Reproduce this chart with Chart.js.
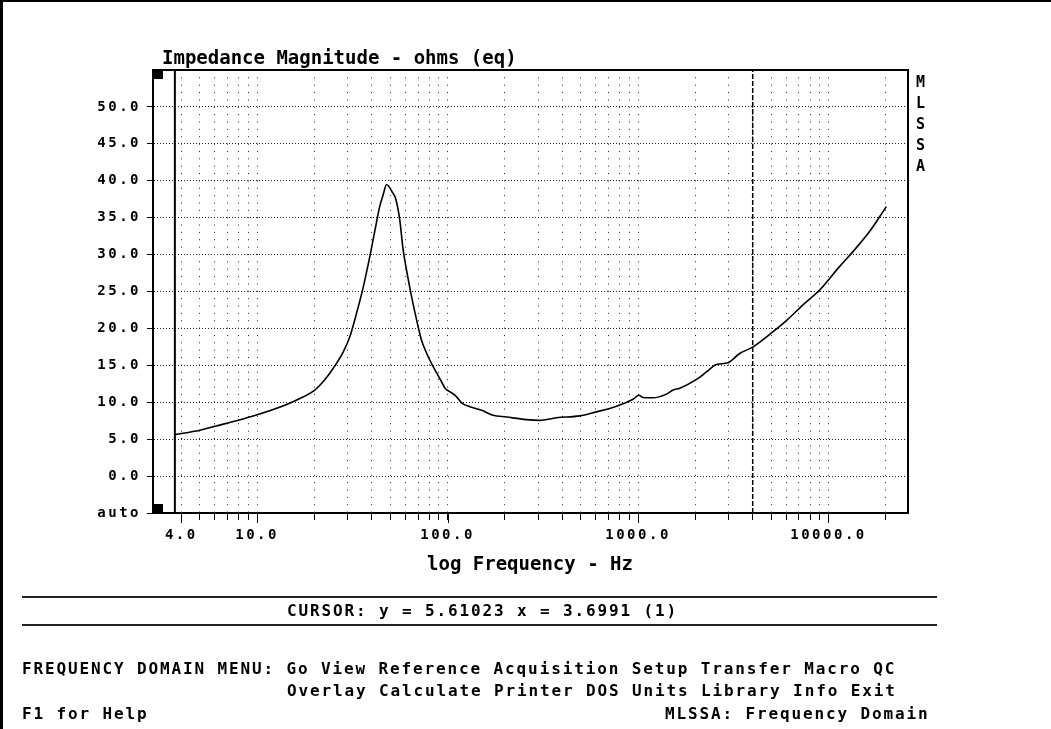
<!DOCTYPE html>
<html>
<head>
<meta charset="utf-8">
<title>MLSSA Impedance Magnitude</title>
<script src="https://cdn.jsdelivr.net/npm/chart.js@4.4.1/dist/chart.umd.min.js"></script>
<style>
    body { margin: 0; background: #fff; }
    #wrap { position: relative; width: 1051px; height: 729px; overflow: hidden; background: #fff; }
    #wrap canvas { position: absolute; left: 0; top: 0; }
    .t { position: absolute; font-family: "DejaVu Sans Mono", monospace; font-weight: bold; color: #000; white-space: pre; }
    .big { font-size: 19px; line-height: 19px; }
    .small { font-size: 16px; line-height: 16px; letter-spacing: 1.87px; }
    .side { font-size: 15px; line-height: 21px; width: 12px; }
    .rule { position: absolute; left: 22px; width: 915px; height: 2px; background: #222; }
    .edge { position: absolute; background: #000; }
</style>
</head>
<body>
<div id="wrap">
    <canvas id="impChart" width="1051" height="729"></canvas>
    <div class="edge" style="left:0;top:0;width:3px;height:729px;"></div>
    <div class="edge" style="left:0;top:0;width:1051px;height:2px;"></div>
    <div class="t big" style="left:162px;top:48px;">Impedance Magnitude - ohms (eq)</div>
    <div class="t side" style="left:916px;top:72px;">M<br>L<br>S<br>S<br>A</div>
    <div class="t big" style="left:427px;top:554px;">log Frequency - Hz</div>
    <div class="rule" style="top:596px;"></div>
    <div class="t small" style="left:287px;top:603px;">CURSOR: y = 5.61023 x = 3.6991 (1)</div>
    <div class="rule" style="top:624px;"></div>
    <div class="t small" style="left:22px;top:661px;">FREQUENCY DOMAIN MENU: Go View Reference Acquisition Setup Transfer Macro QC</div>
    <div class="t small" style="left:287px;top:683px;">Overlay Calculate Printer DOS Units Library Info Exit</div>
    <div class="t small" style="left:22px;top:706px;">F1 for Help</div>
    <div class="t small" style="left:665px;top:706px;">MLSSA: Frequency Domain</div>
</div>
<script>
const freqHz = [3.6991, 5, 6, 7.8, 10, 14.3, 17.4, 20, 22.6, 25.1, 28.3, 30.7, 33.3, 36, 39.1, 41.5, 44, 45.9, 47.8, 51.4,
    53.5, 56.1, 58.4, 60.9, 64.7, 68.7, 73, 79, 87.5, 92, 97, 103, 110, 120, 131, 151, 173, 204, 259, 305,
    373, 494, 605, 710, 834, 941, 1012, 1062, 1199, 1410, 1528, 1656, 2029, 2288, 2580, 2967, 3417, 4018, 5117, 6010,
    7350, 8990, 11450, 13450, 16460, 20130];
const impedanceOhms = [5.61, 6.2, 6.75, 7.5, 8.3, 9.7, 10.7, 11.6, 13.0, 14.6, 16.8, 18.9, 22.1, 25.5, 29.8, 33.2, 36.5, 38.1, 39.5, 38.4,
    37.5, 34.7, 30.7, 27.9, 24.3, 21.2, 18.4, 16.2, 14.0, 13.0, 11.9, 11.4, 10.9, 9.8, 9.4, 8.9, 8.25, 8.0, 7.65, 7.55,
    7.9, 8.15, 8.7, 9.15, 9.8, 10.4, 10.95, 10.65, 10.6, 11.1, 11.65, 11.9, 13.1, 14.1, 15.1, 15.35, 16.6, 17.5, 19.55, 21.05,
    23.2, 25.2, 28.4, 30.4, 33.15, 36.5];

// axes
const xRangeHz = [2.84, 26150];
const xGridHz = [4, 5, 6, 7, 8, 9, 10, 20, 30, 40, 50, 60, 70, 80, 90, 100, 200, 300, 400, 500, 600, 700, 800, 900,
    1000, 2000, 3000, 4000, 5000, 6000, 7000, 8000, 9000, 10000, 20000];
const xLabelHz = [4, 10, 100, 1000, 10000];
const xLabelText = ["4.0", "10.0", "100.0", "1000.0", "10000.0"];
const yRange = [-5, 55];
const yTickOhms = [-5, 0, 5, 10, 15, 20, 25, 30, 35, 40, 45, 50];
const yTickText = ["auto", "0.0", "5.0", "10.0", "15.0", "20.0", "25.0", "30.0", "35.0", "40.0", "45.0", "50.0"];

// cursor (plot start) and marker lines
const cursorHz = 3.6991;
const markerHz = 4000;

const tickFont = { family: "DejaVu Sans Mono", weight: "bold", size: 14 };

const screenPlugin = {
    id: "screen",
    beforeDraw(chart) {
        chart.ctx.letterSpacing = "2.5px"; // wide DOS-style tick labels
    },
    afterDraw(chart) {
        const { ctx, chartArea: a } = chart;
        const xs = chart.scales.x;
        ctx.save();
        ctx.letterSpacing = "0px";
        ctx.strokeStyle = "#000";
        ctx.lineWidth = 2;
        ctx.beginPath();
        ctx.moveTo(a.left, a.top);
        ctx.lineTo(a.right, a.top);
        ctx.lineTo(a.right, a.bottom);
        ctx.stroke();
        // longer ticks at labelled decades
        ctx.lineWidth = 1;
        xLabelHz.forEach((v) => {
            const px = Math.round(xs.getPixelForValue(v)) + 0.5;
            ctx.beginPath();
            ctx.moveTo(px, a.bottom);
            ctx.lineTo(px, a.bottom + 10);
            ctx.stroke();
        });
        ctx.fillStyle = "#000";
        ctx.fillRect(a.left + 1, a.top + 1, 9, 8);
        ctx.fillRect(a.left + 1, a.bottom - 9, 9, 8);
        ctx.restore();
    },
};

new Chart(document.getElementById("impChart"), {
    type: "line",
    data: {
        datasets: [
            {
                data: freqHz.map((f, i) => ({ x: f, y: impedanceOhms[i] })),
                borderColor: "#000",
                borderWidth: 1.6,
                pointRadius: 0,
                cubicInterpolationMode: "monotone",
            },
            {
                data: [{ x: cursorHz, y: yRange[0] }, { x: cursorHz, y: yRange[1] }],
                borderColor: "#000",
                borderWidth: 2,
                pointRadius: 0,
            },
            {
                data: [{ x: markerHz, y: yRange[0] }, { x: markerHz, y: yRange[1] }],
                borderColor: "#000",
                borderWidth: 1.5,
                borderDash: [5, 2],
                pointRadius: 0,
            },
        ],
    },
    options: {
        responsive: false,
        animation: false,
        events: [],
        layout: {
            padding: { left: 0, top: 70, right: 143, bottom: 176 },
        },
        plugins: {
            legend: { display: false },
            tooltip: { enabled: false },
        },
        scales: {
            x: {
                type: "logarithmic",
                min: xRangeHz[0],
                max: xRangeHz[1],
                afterBuildTicks: (scale) => {
                    scale.ticks = xGridHz.map((v) => ({ value: v }));
                },
                afterFit: (scale) => {
                    scale.height = 40;
                },
                ticks: {
                    autoSkip: false,
                    maxRotation: 0,
                    padding: 7,
                    color: "#000",
                    font: tickFont,
                    callback: (v) => {
                        const i = xLabelHz.indexOf(Number(v));
                        return i >= 0 ? xLabelText[i] : "";
                    },
                },
                grid: {
                    color: "#222",
                    lineWidth: 1,
                    tickLength: 7,
                    tickColor: "#000",
                    tickBorderDash: [],
                },
                border: { color: "#000", width: 2, dash: [1, 6.36] },
            },
            y: {
                type: "linear",
                min: yRange[0],
                max: yRange[1],
                afterBuildTicks: (scale) => {
                    scale.ticks = yTickOhms.map((v) => ({ value: v }));
                },
                afterFit: (scale) => {
                    scale.width = 153;
                },
                ticks: {
                    padding: 6,
                    color: "#000",
                    font: tickFont,
                    callback: (v) => {
                        const i = yTickOhms.indexOf(Number(v));
                        return i >= 0 ? yTickText[i] : "";
                    },
                },
                grid: {
                    color: (ctx) => (ctx.tick && ctx.tick.value === yRange[0] ? "rgba(0,0,0,0)" : "#222"),
                    lineWidth: 1,
                    tickLength: 6,
                    tickColor: "#000",
                    tickBorderDash: [],
                },
                border: { color: "#000", width: 2, dash: [1, 2] },
            },
        },
    },
    plugins: [screenPlugin],
});
</script>
</body>
</html>
